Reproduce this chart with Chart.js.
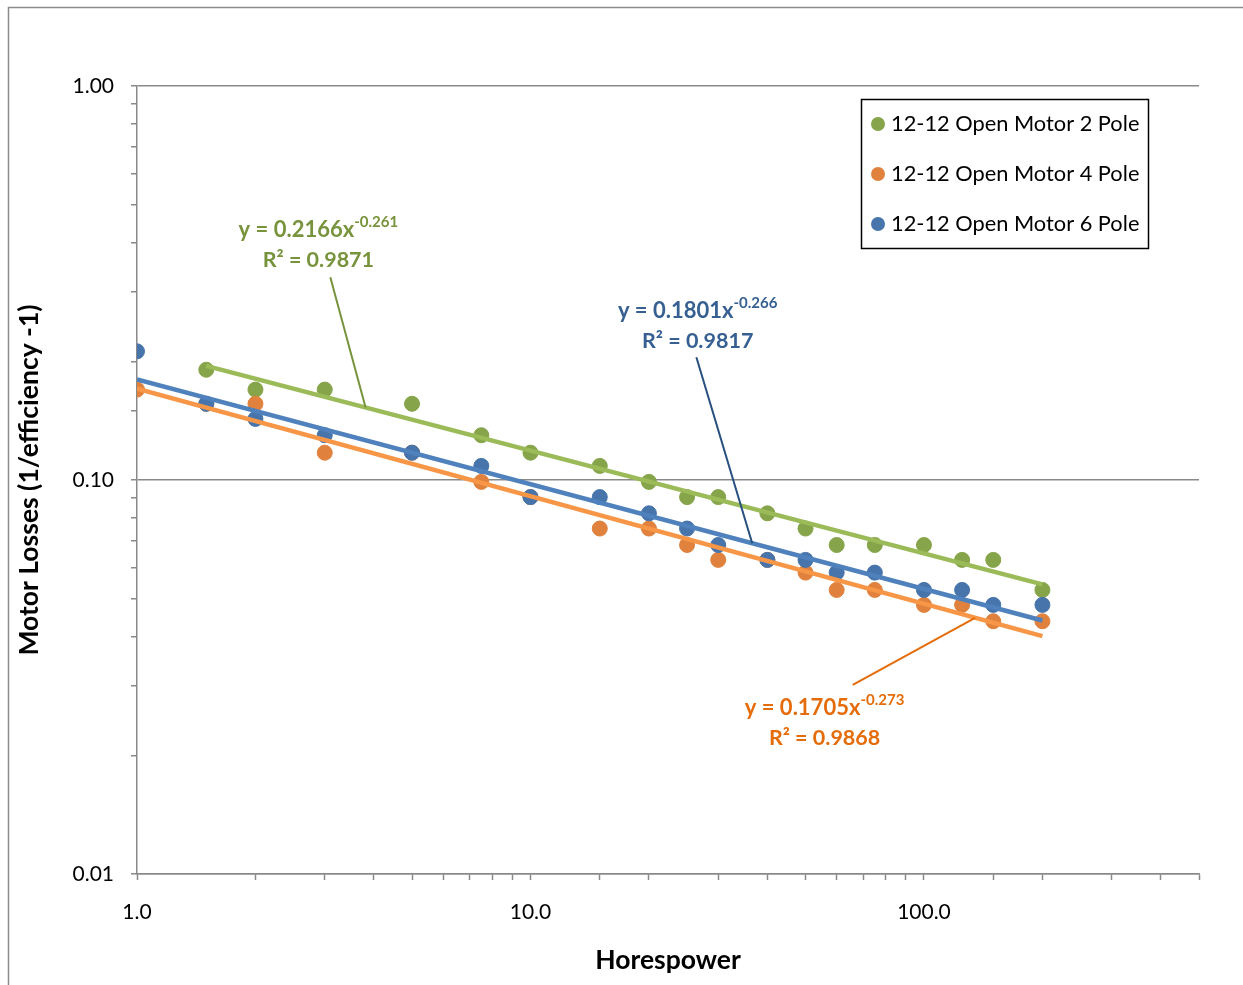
<!DOCTYPE html>
<html>
<head>
<meta charset="utf-8">
<title>Motor Losses vs Horsepower</title>
<script src="https://cdn.jsdelivr.net/npm/chart.js@4.4.1/dist/chart.umd.min.js"></script>
<style>
    html, body { margin: 0; padding: 0; background: #fff; }
    #chart { display: block; }
</style>
</head>
<body>
<canvas id="chart" width="1243" height="985"></canvas>
<script>
// --- Data ---
const seriesNames = ['12-12 Open Motor 2 Pole', '12-12 Open Motor 4 Pole', '12-12 Open Motor 6 Pole'];

const hp2Pole = [1.5, 2, 3, 5, 7.5, 10, 15, 20, 25, 30, 40, 50, 60, 75, 100, 125, 150, 200];
const losses2Pole = [0.1905, 0.1696, 0.1696, 0.1561, 0.1299, 0.1173, 0.1086, 0.0989, 0.0905, 0.0905,
    0.0823, 0.0753, 0.0684, 0.0684, 0.0684, 0.0627, 0.0627, 0.0526];

const hp4and6Pole = [1, 1.5, 2, 3, 5, 7.5, 10, 15, 20, 25, 30, 40, 50, 60, 75, 100, 125, 150, 200];
const losses4Pole = [0.1696, 0.1561, 0.1561, 0.1173, 0.1173, 0.0989, 0.0905, 0.0753, 0.0753, 0.0684,
    0.0627, 0.0627, 0.0582, 0.0526, 0.0526, 0.0482, 0.0482, 0.0438, 0.0438];
const losses6Pole = [0.2121, 0.1561, 0.1429, 0.1299, 0.1173, 0.1086, 0.0905, 0.0905, 0.0823, 0.0753,
    0.0684, 0.0627, 0.0627, 0.0582, 0.0582, 0.0526, 0.0526, 0.0482, 0.0482];

// power trendlines y = a * x^b
const trendCoef = [0.2166, 0.1705, 0.1801];
const trendExp = [-0.261, -0.273, -0.266];
const trendR2 = [0.9871, 0.9868, 0.9817];

const xTickValues = [1, 10, 100];
const xTickLabels = ['1.0', '10.0', '100.0'];
const yTickValues = [0.01, 0.1, 1];
const yTickLabels = ['0.01', '0.10', '1.00'];

// --- Styles ---
const FONT = "Lato, 'Noto Sans', sans-serif";
const pointColors = ['#86A44A', '#E0823D', '#4674AB'];
const lineColors = ['#9BBB59', '#F79646', '#4F81BD'];
const labelColors = ['#77933C', '#E46C0A', '#376092'];
const leaderColors = ['#77933C', '#E46C0A', '#28507F'];
const axisColor = '#898989';

// where each equation sits, in data units (x = hp, y = losses)
const labelPlacement = [
    { at: [2.89, 0.431], from: [3.10, 0.327], toX: 3.81 },
    { at: [55.9, 0.02638], from: [65.9, 0.0302], toX: 134.9 },
    { at: [26.6, 0.2685], from: [26.4, 0.205], toX: 36.6 }
];

Chart.defaults.font.family = FONT;

const seriesX = [hp2Pole, hp4and6Pole, hp4and6Pole];
const seriesY = [losses2Pole, losses4Pole, losses6Pole];

const trendValue = (i, x) => trendCoef[i] * Math.pow(x, trendExp[i]);
const sameValue = (a, b) => Math.abs(a / b - 1) < 1e-6;
const isDecade = v => Math.abs(Math.log10(v) - Math.round(Math.log10(v))) < 1e-6;

// scatter datasets drawn below trendlines; 6 pole on top of 4 pole on top of 2 pole
const datasets = [];
seriesNames.forEach((name, i) => {
    datasets.push({
        type: 'scatter',
        label: name,
        data: seriesX[i].map((x, k) => ({ x: x, y: seriesY[i][k] })),
        backgroundColor: pointColors[i],
        borderColor: pointColors[i],
        borderWidth: 1,
        pointRadius: 7.5,
        order: 4 - i
    });
});
seriesNames.forEach((name, i) => {
    const xs = seriesX[i];
    const x0 = Math.min(...xs);
    const x1 = Math.max(...xs);
    datasets.push({
        type: 'line',
        label: 'Power (' + name + ')',
        data: [{ x: x0, y: trendValue(i, x0) }, { x: x1, y: trendValue(i, x1) }],
        borderColor: lineColors[i],
        borderWidth: 4.5,
        pointRadius: 0,
        fill: false,
        tension: 0,
        order: 0
    });
});

// white background and the thin outer frame
const frame = {
    id: 'frame',
    beforeDraw(chart) {
        const c = chart.ctx;
        c.save();
        c.fillStyle = '#fff';
        c.fillRect(0, 0, chart.width, chart.height);
        c.strokeStyle = '#8c8c8c';
        c.lineWidth = 1.5;
        c.beginPath();
        c.moveTo(8.5, chart.height + 2);
        c.lineTo(8.5, 7.5);
        c.lineTo(chart.width + 2, 7.5);
        c.stroke();
        c.restore();
    }
};

// equation + R² labels with leader lines
const trendLabels = {
    id: 'trendLabels',
    afterDatasetsDraw(chart) {
        const c = chart.ctx;
        const xs = chart.scales.x;
        const ys = chart.scales.y;
        c.save();
        labelPlacement.forEach((p, i) => {
            // leader line
            c.strokeStyle = leaderColors[i];
            c.lineWidth = 2;
            c.beginPath();
            c.moveTo(xs.getPixelForValue(p.from[0]), ys.getPixelForValue(p.from[1]));
            c.lineTo(xs.getPixelForValue(p.toX), ys.getPixelForValue(trendValue(i, p.toX)));
            c.stroke();

            const cx = xs.getPixelForValue(p.at[0]);
            const cy = ys.getPixelForValue(p.at[1]);
            const main = 'y = ' + trendCoef[i].toFixed(4) + 'x';
            const sup = trendExp[i].toFixed(3);
            c.fillStyle = labelColors[i];
            c.textBaseline = 'middle';
            c.textAlign = 'left';
            c.font = 'bold 22px ' + FONT;
            const w1 = c.measureText(main).width;
            c.font = 'bold 15px ' + FONT;
            const w2 = c.measureText(sup).width;
            const left = cx - (w1 + w2) / 2;
            c.font = 'bold 22px ' + FONT;
            c.fillText(main, left, cy);
            c.font = 'bold 15px ' + FONT;
            c.fillText(sup, left + w1, cy - 8);

            c.font = 'bold 21.5px ' + FONT;
            c.textAlign = 'center';
            c.fillText('R\u00B2 = ' + trendR2[i].toFixed(4), cx, cy + 30);
        });
        c.restore();
    }
};

// boxed legend inside the plot, top right
const legendBox = {
    id: 'legendBox',
    afterDraw(chart) {
        const c = chart.ctx;
        const area = chart.chartArea;
        const w = 287, h = 149;
        const left = area.right - 51 - w;
        const top = area.top + 13;
        c.save();
        c.fillStyle = '#fff';
        c.fillRect(left, top, w, h);
        c.strokeStyle = '#000';
        c.lineWidth = 1.5;
        c.strokeRect(left + 0.5, top + 0.5, w, h);
        c.font = '21.8px ' + FONT;
        c.textBaseline = 'middle';
        c.textAlign = 'left';
        seriesNames.forEach((name, i) => {
            const y = top + 25 + i * 50;
            c.fillStyle = pointColors[i];
            c.beginPath();
            c.arc(left + 17, y, 7, 0, Math.PI * 2);
            c.fill();
            c.fillStyle = '#000';
            c.fillText(name, left + 30, y);
        });
        c.restore();
    }
};

const ctx = document.getElementById('chart').getContext('2d');
new Chart(ctx, {
    data: { datasets: datasets },
    options: {
        responsive: false,
        animation: false,
        layout: { padding: { top: 86, right: 44, bottom: 0, left: 0 } },
        plugins: {
            legend: { display: false },
            tooltip: { enabled: false }
        },
        scales: {
            x: {
                type: 'logarithmic',
                position: 'bottom',
                min: 1,
                max: 500,
                border: { display: true, color: axisColor, width: 1.5 },
                grid: {
                    drawOnChartArea: false,
                    drawTicks: true,
                    tickLength: 6,
                    tickColor: axisColor,
                    tickWidth: 1.5
                },
                ticks: {
                    autoSkip: false,
                    maxRotation: 0,
                    padding: 20,
                    color: '#000',
                    font: { size: 21 },
                    callback(value) {
                        const k = xTickValues.findIndex(t => sameValue(value, t));
                        return k >= 0 ? xTickLabels[k] : '';
                    }
                },
                title: {
                    display: true,
                    text: 'Horespower',
                    color: '#000',
                    font: { size: 26.5, weight: 'bold' },
                    padding: { top: 0, bottom: 9 }
                },
                afterFit(scale) { scale.height = 111; }
            },
            y: {
                type: 'logarithmic',
                position: 'left',
                min: 0.01,
                max: 1,
                border: { display: true, color: axisColor, width: 1.5 },
                grid: {
                    drawTicks: true,
                    tickLength: 6,
                    tickColor: axisColor,
                    tickWidth: 1.5,
                    lineWidth: 1.5,
                    color: c => (c.tick && isDecade(c.tick.value)) ? axisColor : 'rgba(0,0,0,0)'
                },
                ticks: {
                    autoSkip: false,
                    padding: 17,
                    color: '#000',
                    font: { size: 21 },
                    callback(value) {
                        const k = yTickValues.findIndex(t => sameValue(value, t));
                        return k >= 0 ? yTickLabels[k] : '';
                    }
                },
                title: {
                    display: true,
                    text: 'Motor Losses (1/efficiency -1)',
                    color: '#000',
                    font: { size: 26.5, weight: 'bold' },
                    padding: { top: 14, bottom: 0 }
                },
                afterFit(scale) { scale.width = 137; }
            }
        }
    },
    plugins: [frame, trendLabels, legendBox]
});
</script>
</body>
</html>
